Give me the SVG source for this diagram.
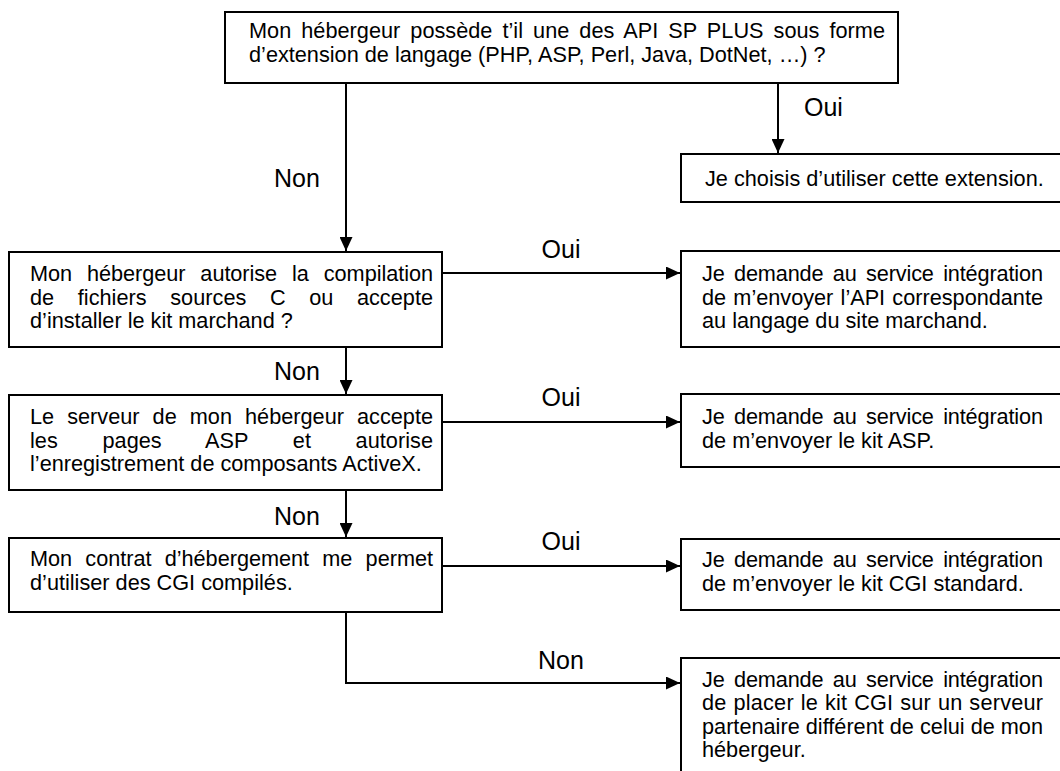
<svg xmlns="http://www.w3.org/2000/svg" width="1060" height="771" viewBox="0 0 1060 771">
<style>
.box{fill:#fff;stroke:#000;stroke-width:2}
.t{font-family:"Liberation Sans",Arial,sans-serif;font-size:21.7px;fill:#000}
.lbl{font-family:"Liberation Sans",Arial,sans-serif;font-size:25px;fill:#000}
.c{fill:none;stroke:#000;stroke-width:2}
</style>
<defs>
<marker id="ah" viewBox="0 0 14 13" refX="14" refY="6.5" markerWidth="14" markerHeight="13" markerUnits="userSpaceOnUse" orient="auto">
<path d="M0,0 L14,6.5 L0,13 Z" fill="#000"/>
</marker>
</defs>
<rect width="1060" height="771" fill="#fff"/>
<g id="connectors">
<path class="c" d="M346,83 V251" marker-end="url(#ah)"/>
<path class="c" d="M778,83 V153" marker-end="url(#ah)"/>
<path class="c" d="M442,273 H680" marker-end="url(#ah)"/>
<path class="c" d="M346,347 V394" marker-end="url(#ah)"/>
<path class="c" d="M442,422 H680" marker-end="url(#ah)"/>
<path class="c" d="M346,490 V537" marker-end="url(#ah)"/>
<path class="c" d="M442,566 H680" marker-end="url(#ah)"/>
<path class="c" d="M346,612 V683 H680" marker-end="url(#ah)"/>
<text class="lbl" x="297" y="187" text-anchor="middle">Non</text>
<text class="lbl" x="804" y="116">Oui</text>
<text class="lbl" x="561" y="258" text-anchor="middle">Oui</text>
<text class="lbl" x="297" y="380" text-anchor="middle">Non</text>
<text class="lbl" x="561" y="406" text-anchor="middle">Oui</text>
<text class="lbl" x="297" y="525" text-anchor="middle">Non</text>
<text class="lbl" x="561" y="550" text-anchor="middle">Oui</text>
<text class="lbl" x="561" y="669" text-anchor="middle">Non</text>
</g>
<g id="q1">
<rect class="box" x="225" y="12" width="673" height="71"/>
<text class="t" x="249" y="38" word-spacing="4" textLength="636" lengthAdjust="spacing">Mon hébergeur possède t’il une des API SP PLUS sous forme</text>
<text class="t" x="249" y="61.5">d’extension de langage (PHP, ASP, Perl, Java, DotNet, …) ?</text>
</g>
<g id="r1">
<rect class="box" x="681" y="154" width="420" height="48"/>
<text class="t" x="705" y="186">Je choisis d’utiliser cette extension.</text>
</g>
<g id="q2">
<rect class="box" x="9" y="252" width="433" height="95"/>
<text class="t" x="30" y="281" word-spacing="9" textLength="403" lengthAdjust="spacing">Mon hébergeur autorise la compilation</text>
<text class="t" x="30" y="304.5" word-spacing="17.5" textLength="403" lengthAdjust="spacing">de fichiers sources C ou accepte</text>
<text class="t" x="30" y="328">d’installer le kit marchand ?</text>
</g>
<g id="r2">
<rect class="box" x="681" y="251" width="420" height="96"/>
<text class="t" x="702" y="281" word-spacing="3.5" textLength="341" lengthAdjust="spacing">Je demande au service intégration</text>
<text class="t" x="702" y="304.5" word-spacing="1.2" textLength="341" lengthAdjust="spacing">de m’envoyer l’API correspondante</text>
<text class="t" x="702" y="328">au langage du site marchand.</text>
</g>
<g id="q3">
<rect class="box" x="9" y="395" width="433" height="95"/>
<text class="t" x="30" y="424" word-spacing="7" textLength="403" lengthAdjust="spacing">Le serveur de mon hébergeur accepte</text>
<text class="t" x="30" y="447.5" word-spacing="38.5" textLength="403" lengthAdjust="spacing">les pages ASP et autorise</text>
<text class="t" x="30" y="471">l’enregistrement de composants ActiveX.</text>
</g>
<g id="r3">
<rect class="box" x="681" y="394" width="420" height="73"/>
<text class="t" x="702" y="424" word-spacing="3.5" textLength="341" lengthAdjust="spacing">Je demande au service intégration</text>
<text class="t" x="702" y="447.5">de m’envoyer le kit ASP.</text>
</g>
<g id="q4">
<rect class="box" x="9" y="538" width="433" height="74"/>
<text class="t" x="30" y="566" word-spacing="7.2" textLength="403" lengthAdjust="spacing">Mon contrat d’hébergement me permet</text>
<text class="t" x="30" y="589.5">d’utiliser des CGI compilés.</text>
</g>
<g id="r4">
<rect class="box" x="681" y="539" width="420" height="71"/>
<text class="t" x="702" y="567" word-spacing="3.5" textLength="341" lengthAdjust="spacing">Je demande au service intégration</text>
<text class="t" x="702" y="590.5">de m’envoyer le kit CGI standard.</text>
</g>
<g id="r5">
<rect class="box" x="681" y="658" width="420" height="200"/>
<text class="t" x="702" y="686.5" word-spacing="3.5" textLength="341" lengthAdjust="spacing">Je demande au service intégration</text>
<text class="t" x="702" y="710" word-spacing="0.6" textLength="341" lengthAdjust="spacing">de placer le kit CGI sur un serveur</text>
<text class="t" x="702" y="733.5" word-spacing="0" textLength="341" lengthAdjust="spacing">partenaire différent de celui de mon</text>
<text class="t" x="702" y="757">hébergeur.</text>
</g>
</svg>
